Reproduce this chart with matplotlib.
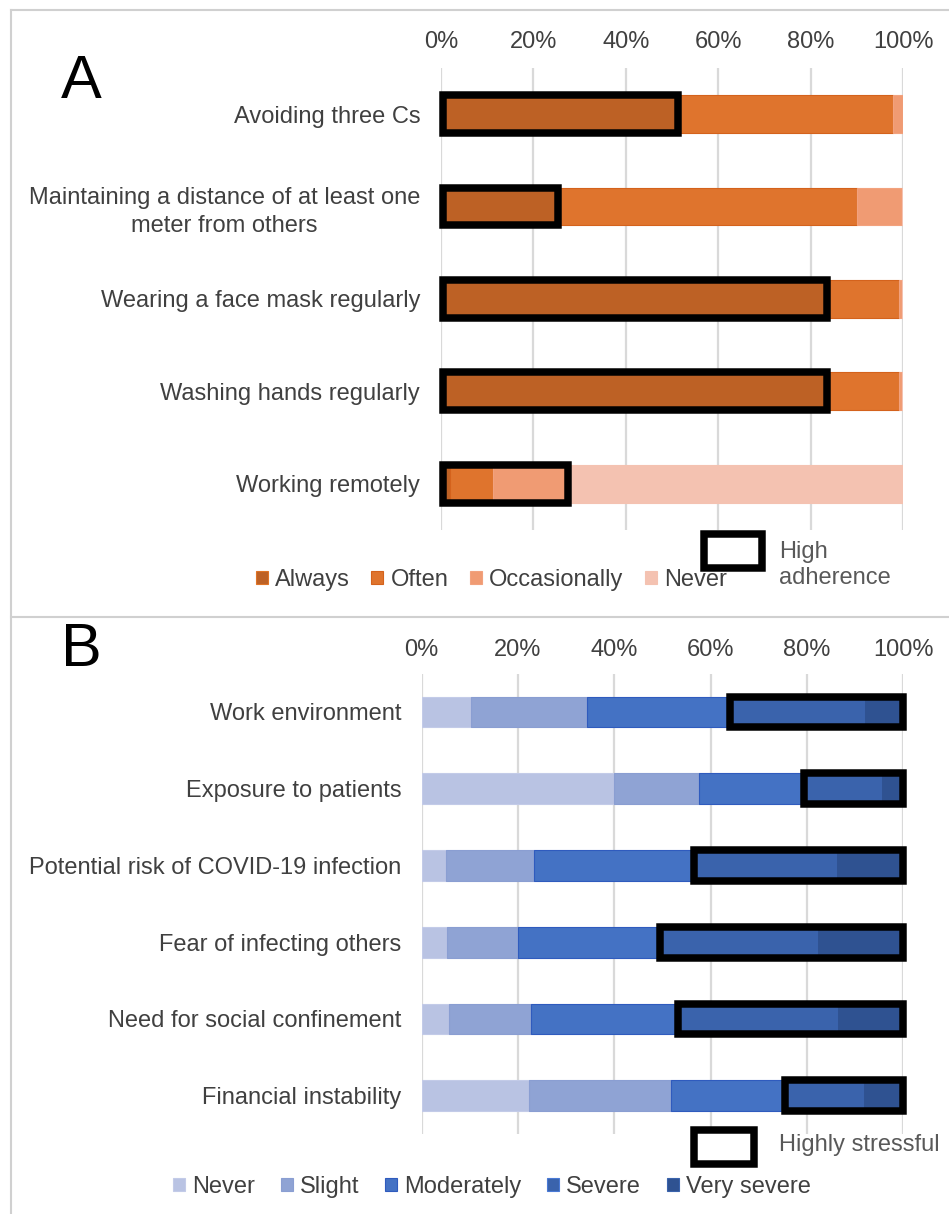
import matplotlib
matplotlib.use("Agg")
import matplotlib.pyplot as plt
import numpy as np
from matplotlib.patches import Rectangle
from matplotlib.lines import Line2D

plt.rcParams['font.family'] = ['Liberation Sans', 'DejaVu Sans']

# ---------------- Data ----------------
a_categories = ["Avoiding three Cs",
                "Maintaining a distance of at least one\nmeter from others",
                "Wearing a face mask regularly",
                "Washing hands regularly",
                "Working remotely"]
a_series = ["Always", "Often", "Occasionally", "Never"]
a_always = [51.3, 25.3, 83.4, 83.4, 2.0]
a_often = [46.4, 64.6, 15.7, 15.6, 9.2]
a_occasionally = [2.3, 9.8, 0.6, 0.8, 16.2]
a_never = [0.0, 0.3, 0.3, 0.2, 72.6]
a_high_levels = [1, 1, 1, 1, 3]  # number of leading levels counted as high adherence

b_categories = ["Work environment", "Exposure to patients",
                "Potential risk of COVID-19 infection", "Fear of infecting others",
                "Need for social confinement", "Financial instability"]
b_series = ["Never", "Slight", "Moderately", "Severe", "Very severe"]
b_never = [10.2, 39.9, 5.0, 5.2, 5.7, 22.3]
b_slight = [24.1, 17.7, 18.4, 14.7, 17.0, 29.4]
b_moderately = [29.7, 21.7, 33.1, 29.5, 30.5, 23.7]
b_severe = [27.8, 16.0, 29.5, 32.6, 33.1, 16.2]
b_very_severe = [8.2, 4.7, 14.0, 18.0, 13.7, 8.4]
b_stress_from = 3  # levels from index 3 (Severe) onward count as highly stressful

ticks = [0, 20, 40, 60, 80, 100]
tick_labels = ["0%", "20%", "40%", "60%", "80%", "100%"]

# ---------------- Style ----------------
a_colors = ["#BD6125", "#DF742D", "#F09B73", "#F4C2B1"]
a_edges = ["#E07426", "#D4621C", "#F2A27E", "#F4C2B1"]
b_colors = ["#B9C3E3", "#8FA3D4", "#4472C4", "#3A63AC", "#2F5291"]
b_edges = ["#C3CBE8", "#8A9ED2", "#2F5BBE", "#4A7AD6", "#3A63AC"]
text_col = "#404040"
grid_col = "#D9D9D9"
FS = 17
W, H = 949, 1214

fig = plt.figure(figsize=(W / 100, H / 100), dpi=100)


def fx(px):
    return px / W


def fy(py):
    return 1 - py / H


def style_axis(ax, ylab_pad, xlab_pad):
    ax.set_xlim(0, 100)
    ax.set_xticks(ticks)
    ax.set_xticklabels(tick_labels)
    ax.xaxis.tick_top()
    ax.tick_params(axis='x', length=0, labelsize=FS, labelcolor=text_col, pad=xlab_pad)
    ax.tick_params(axis='y', length=0, labelsize=FS, labelcolor=text_col, pad=ylab_pad)
    for s in ax.spines.values():
        s.set_visible(False)
    ax.grid(axis='x', color=grid_col, linewidth=1.6)
    ax.set_axisbelow(True)


# ---------------- Panel A ----------------
axA = fig.add_axes([fx(441), fy(530), fx(903.3) - fx(441), fy(67.8) - fy(530)])
a_data = np.array([a_always, a_often, a_occasionally, a_never])
ya = np.arange(len(a_categories))
left = np.zeros(len(a_categories))
hA = 0.41
for i, name in enumerate(a_series):
    axA.barh(ya, a_data[i], left=left, height=hA, color=a_colors[i],
             edgecolor=a_edges[i], linewidth=0.8, label=name)
    left += a_data[i]
cumA = np.cumsum(a_data, axis=0)
for j in range(len(a_categories)):
    end = cumA[a_high_levels[j] - 1, j]
    axA.add_patch(Rectangle((0.4, ya[j] - hA / 2), end - 0.4, hA, fill=False,
                            edgecolor='black', linewidth=5.4, joinstyle='miter',
                            clip_on=False, zorder=5))
axA.set_yticks(ya)
axA.set_yticklabels(a_categories, multialignment='center', linespacing=1.33)
axA.set_ylim(len(a_categories) - 0.5, -0.5)
style_axis(axA, 15, 10.5)

legA = fig.legend(*axA.get_legend_handles_labels(), loc='center left',
                  bbox_to_anchor=(fx(256), fy(580)), ncol=4, frameon=False,
                  fontsize=FS, handlelength=0.5, handleheight=0.5,
                  handletextpad=0.3, columnspacing=0.92, borderpad=0,
                  borderaxespad=0, labelcolor=text_col)

# high adherence key
fig.add_artist(Rectangle((fx(703.5), fy(567.5)), fx(762) - fx(703.5), fy(533.5) - fy(567.5),
                         transform=fig.transFigure, facecolor='white', edgecolor='black',
                         linewidth=5.4, joinstyle='miter'))
fig.text(fx(779), fy(565), "High\nadherence", fontsize=FS, color="#595959",
         ha='left', va='center', linespacing=1.27)

# ---------------- Panel B ----------------
axB = fig.add_axes([fx(421.7), fy(1134), fx(903.3) - fx(421.7), fy(673.6) - fy(1134)])
b_data = np.array([b_never, b_slight, b_moderately, b_severe, b_very_severe])
yb = np.arange(len(b_categories))
left = np.zeros(len(b_categories))
hB = 0.40
for i, name in enumerate(b_series):
    axB.barh(yb, b_data[i], left=left, height=hB, color=b_colors[i],
             edgecolor=b_edges[i], linewidth=0.8, label=name)
    left += b_data[i]
cumB = np.cumsum(b_data, axis=0)
for j in range(len(b_categories)):
    start = cumB[b_stress_from - 1, j]
    axB.add_patch(Rectangle((start, yb[j] - hB / 2), cumB[-1, j] - start, hB, fill=False,
                            edgecolor='black', linewidth=5.4, joinstyle='miter',
                            clip_on=False, zorder=5))
axB.set_yticks(yb)
axB.set_yticklabels(b_categories)
axB.set_ylim(len(b_categories) - 0.5, -0.5)
style_axis(axB, 14.5, 9)

legB = fig.legend(*axB.get_legend_handles_labels(), loc='center left',
                  bbox_to_anchor=(fx(173), fy(1187)), ncol=5, frameon=False,
                  fontsize=FS, handlelength=0.5, handleheight=0.5,
                  handletextpad=0.3, columnspacing=1.1, borderpad=0,
                  borderaxespad=0, labelcolor=text_col)

fig.add_artist(Rectangle((fx(693.7), fy(1164.4)), fx(754) - fx(693.7), fy(1129.6) - fy(1164.4),
                         transform=fig.transFigure, facecolor='white', edgecolor='black',
                         linewidth=5.4, joinstyle='miter'))
fig.text(fx(779), fy(1145), "Highly stressful", fontsize=FS, color="#595959",
         ha='left', va='center')

# ---------------- Panel letters & frame ----------------
fig.text(fx(81), fy(82), "A", fontsize=44, color='black', ha='center', va='center')
fig.text(fx(81.5), fy(651), "B", fontsize=44, color='black', ha='center', va='center')

frame_col = "#D0D0D0"
fig.add_artist(Line2D([fx(11), 1], [fy(10), fy(10)], color=frame_col, linewidth=1.5))
fig.add_artist(Line2D([fx(11), fx(11)], [fy(10), 0], color=frame_col, linewidth=1.5))
fig.add_artist(Line2D([fx(11), 1], [fy(617), fy(617)], color=frame_col, linewidth=1.5))

fig.savefig("out.png", dpi=100)
